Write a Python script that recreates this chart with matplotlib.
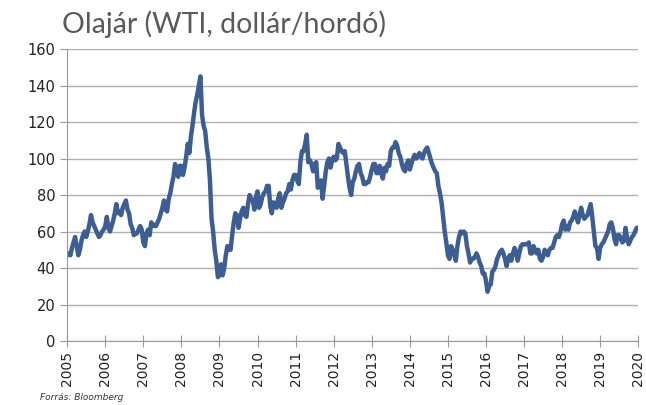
import numpy as np
import matplotlib.pyplot as plt

# WTI price, two readings per month (USD/barrel)
p2005 = [47, 48, 47, 51, 54, 57, 52, 47, 50, 55, 58, 60, 57, 60, 64, 69, 65, 63, 61, 59, 57, 58, 60, 61]
p2006 = [63, 68, 62, 60, 63, 66, 70, 75, 70, 71, 69, 73, 75, 77, 72, 70, 64, 62, 58, 59, 59, 61, 63, 61]
p2007 = [54, 52, 59, 61, 58, 65, 64, 63, 63, 65, 67, 70, 73, 77, 72, 71, 78, 81, 86, 90, 97, 94, 90, 96]
p2008 = [96, 91, 95, 101, 108, 103, 112, 118, 125, 131, 135, 140, 145, 124, 118, 115, 106, 100, 88, 67, 60, 50, 44, 35]
p2009 = [36, 42, 36, 40, 47, 52, 50, 50, 58, 65, 70, 69, 62, 67, 71, 73, 69, 68, 75, 80, 78, 77, 72, 79]
p2010 = [82, 73, 75, 79, 81, 82, 85, 85, 74, 70, 76, 75, 73, 78, 81, 73, 76, 78, 81, 82, 86, 83, 88, 91]
p2011 = [91, 88, 86, 98, 104, 104, 108, 113, 98, 99, 97, 93, 97, 98, 84, 86, 88, 78, 85, 93, 98, 100, 95, 99]
p2012 = [101, 99, 100, 108, 106, 104, 103, 104, 97, 90, 84, 80, 87, 89, 93, 96, 97, 92, 90, 86, 86, 87, 87, 90]
p2013 = [94, 97, 97, 92, 92, 96, 92, 89, 95, 93, 97, 96, 104, 106, 106, 109, 107, 103, 101, 97, 94, 93, 97, 99]
p2014 = [94, 97, 100, 102, 100, 101, 103, 101, 100, 103, 105, 106, 103, 100, 97, 95, 93, 92, 85, 81, 76, 68, 60, 54]
p2015 = [47, 45, 52, 50, 47, 44, 52, 57, 60, 59, 60, 59, 52, 48, 43, 45, 45, 46, 48, 46, 43, 41, 37, 37]
p2016 = [33, 27, 30, 31, 38, 39, 41, 45, 47, 49, 50, 48, 45, 41, 45, 47, 44, 48, 51, 49, 44, 48, 52, 53]
p2017 = [53, 53, 53, 54, 48, 48, 52, 50, 48, 50, 45, 44, 46, 50, 48, 47, 50, 51, 51, 54, 57, 58, 57, 60]
p2018 = [64, 66, 61, 63, 61, 65, 66, 68, 71, 68, 65, 69, 73, 69, 67, 68, 69, 72, 75, 68, 60, 52, 51, 45]
p2019 = [51, 53, 54, 56, 58, 60, 64, 65, 62, 56, 53, 58, 58, 56, 54, 55, 62, 56, 53, 55, 57, 58, 60, 62]
end_price = [62]

prices = (p2005 + p2006 + p2007 + p2008 + p2009 + p2010 + p2011 + p2012 + p2013
          + p2014 + p2015 + p2016 + p2017 + p2018 + p2019 + end_price)
t = np.linspace(2005, 2020, len(prices))
year_ticks = list(range(2005, 2021))

fig = plt.figure(figsize=(6.46, 4.05), dpi=100)
ax = fig.add_axes([0.104, 0.158, 0.884, 0.721])

ax.plot(t, prices, color="#3C5E92", linewidth=3.2, solid_joinstyle="round")

ax.set_xlim(2005, 2020)
ax.set_ylim(0, 160)
ax.set_yticks(range(0, 161, 20))
ax.set_xticks(year_ticks)
ax.set_xticklabels([str(y) for y in year_ticks], rotation=90)
ax.yaxis.grid(True, color="#B0B0B0", linewidth=1)
ax.set_axisbelow(True)

for s in ["top", "right"]:
    ax.spines[s].set_visible(False)
for s in ["left", "bottom"]:
    ax.spines[s].set_color("#999999")
ax.tick_params(axis="y", length=5, color="#999999", labelsize=10.5, labelcolor="#222222")
ax.tick_params(axis="x", direction="inout", length=8, color="#999999", labelsize=10,
               labelcolor="#222222", pad=3, labelrotation=90)

fig.text(0.096, 0.975, "Olajár (WTI, dollár/hordó)", fontsize=20.5, color="#5A5A5A",
         family="Lato", va="top", ha="left")
fig.text(0.062, 0.008, "Forrás: Bloomberg", fontsize=6.5, style="italic",
         color="#333333", va="bottom", ha="left")

plt.savefig("out.png", dpi=100)
